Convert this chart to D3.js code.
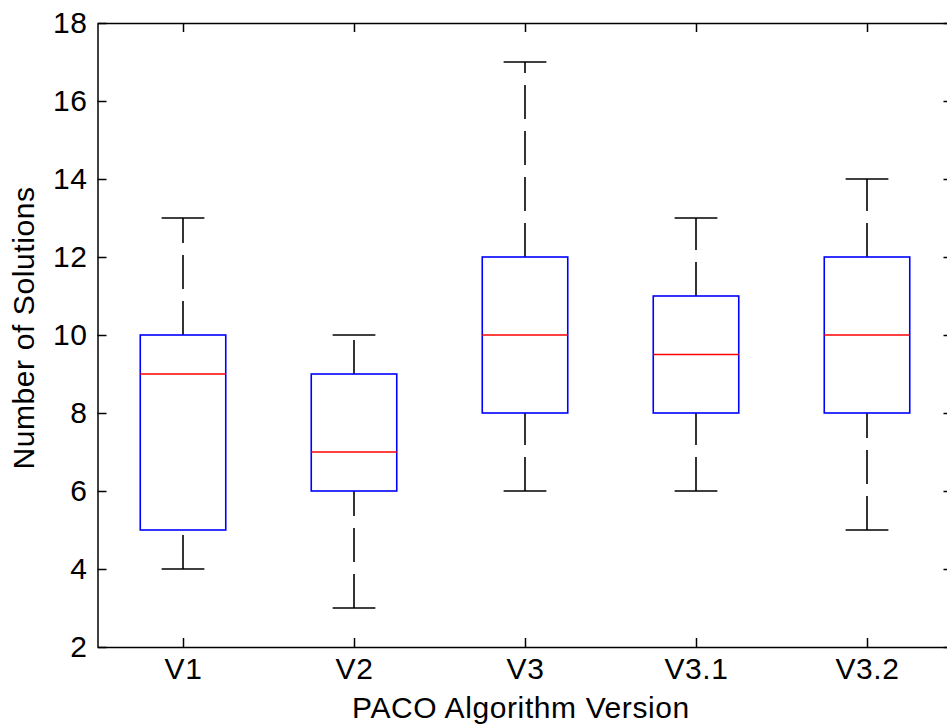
<!DOCTYPE html>
<html>
<head>
<meta charset="utf-8">
<script src="https://cdn.jsdelivr.net/npm/d3@7"></script>
<style>
  html, body { margin: 0; padding: 0; background: #fff; }
  svg { display: block; }
  text { font-family: "Liberation Sans", Arial, Helvetica, sans-serif; fill: #000; }
</style>
</head>
<body>
<svg id="chart" width="947" height="726"></svg>
<script>
// Box-plot summary for each algorithm version
const versions = ["V1", "V2", "V3", "V3.1", "V3.2"];
const whiskerLow = [4, 3, 6, 6, 5];
const quartile1 = [5, 6, 8, 8, 8];
const medians = [9, 7, 10, 9.5, 10];
const quartile3 = [10, 9, 12, 11, 12];
const whiskerHigh = [13, 10, 17, 13, 14];
const yTicks = [2, 4, 6, 8, 10, 12, 14, 16, 18];

const svg = d3.select("#chart");
const plotLeft = 97.5, plotRight = 952.5, plotTop = 23, plotBottom = 647;

const x = d3.scaleLinear().domain([0.5, versions.length + 0.5]).range([plotLeft, plotRight]);
const y = d3.scaleLinear().domain([2, 18]).range([plotBottom, plotTop]);

const fontSize = 30;
const spacing = "0.6px";
const tick = 9;

function styleAxis(g) {
  g.selectAll("path.domain").attr("stroke", "#000").attr("stroke-width", 1.5);
  g.selectAll(".tick line").attr("stroke", "#000").attr("stroke-width", 1.5);
  g.selectAll(".tick text").attr("font-size", fontSize).attr("fill", "#111")
    .style("letter-spacing", spacing)
    .style("font-family", '"Liberation Sans", Arial, Helvetica, sans-serif');
}

// Left axis with labels, inward ticks
svg.append("g")
  .attr("transform", `translate(${plotLeft},0)`)
  .call(d3.axisLeft(y).tickValues(yTicks).tickSizeInner(-tick).tickSizeOuter(0).tickPadding(10))
  .call(styleAxis);

// Right axis (mirror ticks only)
svg.append("g")
  .attr("transform", `translate(${plotRight},0)`)
  .call(d3.axisRight(y).tickValues(yTicks).tickSizeInner(-tick).tickSizeOuter(0).tickFormat(""))
  .call(styleAxis);

const idx = versions.map((_, i) => i + 1);

// Bottom axis with version labels
svg.append("g")
  .attr("transform", `translate(0,${plotBottom})`)
  .call(d3.axisBottom(x).tickValues(idx).tickFormat(d => versions[d - 1])
    .tickSizeInner(-tick).tickSizeOuter(0).tickPadding(11))
  .call(styleAxis);

// Top axis (mirror ticks only)
svg.append("g")
  .attr("transform", `translate(0,${plotTop})`)
  .call(d3.axisTop(x).tickValues(idx).tickSizeInner(-tick).tickSizeOuter(0).tickFormat(""))
  .call(styleAxis);

// Boxes
const boxHalf = 0.25, capHalf = 0.125;
const plot = svg.append("g");
versions.forEach((v, i) => {
  const c = i + 1;
  const g = plot.append("g");
  // whiskers: drawn from the lower value upward, dashed
  [[whiskerLow[i], quartile1[i]], [quartile3[i], whiskerHigh[i]]].forEach(([a, b]) => {
    g.append("line")
      .attr("x1", x(c)).attr("x2", x(c))
      .attr("y1", y(a)).attr("y2", y(b))
      .attr("stroke", "#000").attr("stroke-width", 1.6)
      .attr("stroke-dasharray", "34,12");
  });
  // caps
  [whiskerLow[i], whiskerHigh[i]].forEach(val => {
    g.append("line")
      .attr("x1", x(c - capHalf)).attr("x2", x(c + capHalf))
      .attr("y1", y(val)).attr("y2", y(val))
      .attr("stroke", "#000").attr("stroke-width", 1.6);
  });
  // box
  g.append("rect")
    .attr("x", x(c - boxHalf)).attr("width", x(c + boxHalf) - x(c - boxHalf))
    .attr("y", y(quartile3[i])).attr("height", y(quartile1[i]) - y(quartile3[i]))
    .attr("fill", "none").attr("stroke", "#0000ff").attr("stroke-width", 1.6);
  // median
  g.append("line")
    .attr("x1", x(c - boxHalf)).attr("x2", x(c + boxHalf))
    .attr("y1", y(medians[i])).attr("y2", y(medians[i]))
    .attr("stroke", "#ff0000").attr("stroke-width", 1.6);
});

// Axis titles
svg.append("text")
  .attr("x", (plotLeft + plotRight) / 2 - 4).attr("y", 718)
  .attr("text-anchor", "middle").attr("font-size", fontSize)
  .style("letter-spacing", spacing).attr("fill", "#111")
  .text("PACO Algorithm Version");

svg.append("text")
  .attr("transform", `translate(34,${(plotTop + plotBottom) / 2 - 7}) rotate(-90)`)
  .attr("text-anchor", "middle").attr("font-size", fontSize)
  .style("letter-spacing", spacing).attr("fill", "#111")
  .text("Number of Solutions");
</script>
</body>
</html>
